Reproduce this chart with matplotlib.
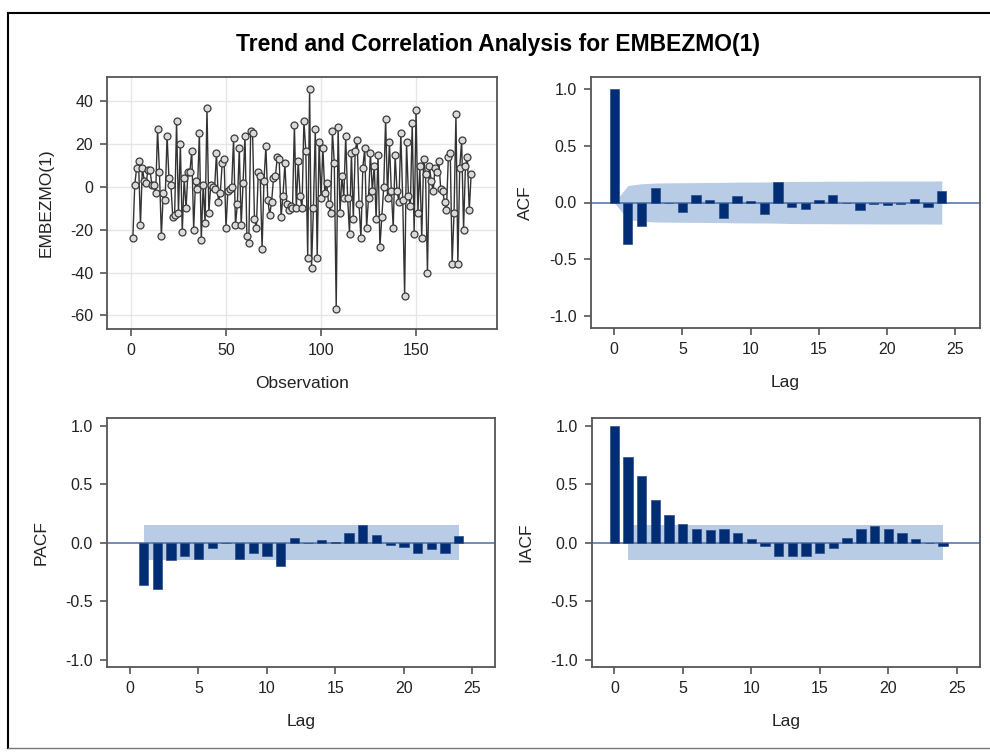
import matplotlib
matplotlib.use("Agg")
import matplotlib.pyplot as plt
from matplotlib.lines import Line2D

plt.rcParams['font.family'] = ['Liberation Sans', 'DejaVu Sans']
plt.rcParams['axes.unicode_minus'] = False

# ---------------- data ----------------
series_values = [
    -24, 1, 9, 12, -18, 9, 3, 2, 8, 8, 1, 1, -3, 27, 7, -23, -3, -6, 24, 4,
    1, -14, -13, 31, -12, 20, -21, 4, -10, 7, 7, 17, -20, 3, -1, 25, -25, 1, -17, 37,
    -12,
    1, 0, -1, 16, -7, -3, 11, 13, -19, -2, -1, 0, 23, -18, -8, 18, -18, 2, 24, -23,
    -26, 26, 25, -15, -19, 7, 5, -29, 3, 19, -6, -13, -7, 4, 5, 14, 13, -14, -4, 11,
    -8, -11, -9, -10, 29, -10, 12, -4, -10, 31, 17, -33,
    46,
    -38, -10, 27, -33, 21, -5, 18, -3, 2, -8, -12, 26, 11, -57, 28, -12, 5, -5, 24, -5,
    -22, 16, -15, 17, 22, -8, -24, 9, 18, -19, -5, 16, -2, 10, -15, 15, -28, -14, 0, 32,
    -5, 21, -2, -19, 15, -2, -7, 25, -6,
    -51,
    21, -4, -9, 30, -22, 36, -12, 10, -24, 13, 6, -40, 10, 3, -2, 9, 7, 12, -1, -2,
    -7, -11, 14, 16, -36, -12, 34, -36, 9, 22, -20, 10, 14, -11, 6,
]
observations = list(range(1, len(series_values) + 1))

lags = list(range(0, 25))
acf_values = [1.0, -0.37, -0.21, 0.13, -0.005, -0.08, 0.07, 0.02, -0.14, 0.06,
              0.01, -0.10, 0.18, -0.04, -0.06, 0.02, 0.07, 0.0, -0.07, -0.01,
              -0.02, -0.015, 0.03, -0.04, 0.10]
acf_band = [0.0, 0.150, 0.166, 0.172, 0.174, 0.175, 0.176, 0.177, 0.178, 0.180,
            0.181, 0.181, 0.183, 0.186, 0.187, 0.187, 0.188, 0.188, 0.189, 0.189,
            0.190, 0.190, 0.190, 0.190, 0.191]

pacf_lags = list(range(1, 25))
pacf_values = [-0.36, -0.39, -0.15, -0.11, -0.14, -0.04, -0.005, -0.14, -0.085, -0.11,
               -0.20, 0.04, 0.0, 0.025, 0.008, 0.08, 0.15, 0.065, -0.015, -0.035,
               -0.09, -0.055, -0.09, 0.06]
pacf_band = 0.149

iacf_values = [1.0, 0.73, 0.57, 0.365, 0.24, 0.16, 0.115, 0.11, 0.12, 0.08,
               0.035, -0.025, -0.11, -0.11, -0.115, -0.09, -0.045, 0.04, 0.12, 0.14,
               0.12, 0.085, 0.03, 0.0, -0.025]
iacf_band = 0.149

title_text = "Trend and Correlation Analysis for EMBEZMO(1)"
series_label = "EMBEZMO(1)"

# ---------------- style ----------------
W, H = 990, 754
BAR = "#002D73"
BAND = "#B8CCE6"
REF = "#4A6EA8"
SPINE = "#555555"
TXT = "#222222"

fig = plt.figure(figsize=(W / 100, H / 100), dpi=100)
fig.patch.set_facecolor("white")


def px_axes(left, top, right, bottom):
    return fig.add_axes([left / W, 1 - bottom / H, (right - left) / W, (bottom - top) / H])


def style(ax):
    for s in ax.spines.values():
        s.set_color(SPINE)
        s.set_linewidth(1.3)
    ax.tick_params(direction="out", length=5, width=1.2, color=SPINE,
                   labelsize=11.5, labelcolor=TXT, pad=5)


# outer frame
fig.add_artist(Line2D([8 / W, 8 / W], [1 - 13 / H, 1 - 748 / H], color="black", lw=1.5,
                      transform=fig.transFigure))
fig.add_artist(Line2D([8 / W, 1.0], [1 - 13 / H, 1 - 13 / H], color="black", lw=1.5,
                      transform=fig.transFigure))
fig.add_artist(Line2D([8 / W, 1.0], [1 - 748 / H, 1 - 748 / H], color="#777777", lw=1.0,
                      transform=fig.transFigure))

fig.text(498 / W, 1 - 44 / H, title_text, ha="center", va="center",
         fontsize=16.5, fontweight="bold", color="black")

XLP = 13
YLP = 12

# ---- top-left: series ----
ax1 = px_axes(107, 77, 497, 329)
style(ax1)
ax1.grid(True, color="#E6E6E6", lw=1)
ax1.set_axisbelow(True)
ax1.plot(observations, series_values, color="#333333", lw=1.0, marker="o", ms=5,
         mfc="#DADADA", mec="#3A3A3A", mew=0.9)
ax1.set_xlim(-12.6, 192.6)
ax1.set_ylim(-66.4, 51.4)
ax1.set_xticks([0, 50, 100, 150])
ax1.set_yticks([-60, -40, -20, 0, 20, 40])
ax1.set_xlabel("Observation", fontsize=12.5, color=TXT, labelpad=XLP)
ax1.set_ylabel(series_label, fontsize=12.5, color=TXT, labelpad=YLP)


def corr_axes(ax, x0, x1, y0, y1):
    style(ax)
    ax.set_xlim(x0, x1)
    ax.set_ylim(y0, y1)
    ax.set_xticks([0, 5, 10, 15, 20, 25])
    ax.set_yticks([-1.0, -0.5, 0.0, 0.5, 1.0])
    ax.set_yticklabels(["-1.0", "-0.5", "0.0", "0.5", "1.0"])
    ax.axhline(0, color=REF, lw=1.1, zorder=2)
    ax.set_xlabel("Lag", fontsize=12.5, color=TXT, labelpad=XLP)


# ---- top-right: ACF ----
ax2 = px_axes(591, 77, 980, 328)
corr_axes(ax2, -1.7, 26.8, -1.11, 1.11)
ax2.fill_between(lags, [-b for b in acf_band], acf_band, color=BAND, lw=0, zorder=1)
ax2.bar(lags, acf_values, width=0.68, color=BAR, edgecolor="#2B4E8C", lw=0.5, zorder=3)
ax2.set_ylabel("ACF", fontsize=12.5, color=TXT, labelpad=YLP)

# ---- bottom-left: PACF ----
ax3 = px_axes(107, 418, 495, 667)
corr_axes(ax3, -1.68, 26.65, -1.06, 1.066)
ax3.fill_between([pacf_lags[0], pacf_lags[-1]], [-pacf_band] * 2, [pacf_band] * 2,
                 color=BAND, lw=0, zorder=1)
ax3.bar(pacf_lags, pacf_values, width=0.68, color=BAR, edgecolor="#2B4E8C", lw=0.5, zorder=3)
ax3.set_ylabel("PACF", fontsize=12.5, color=TXT, labelpad=YLP)

# ---- bottom-right: IACF ----
ax4 = px_axes(592, 418, 980, 667)
corr_axes(ax4, -1.63, 26.7, -1.06, 1.066)
ax4.fill_between([1, 24], [-iacf_band] * 2, [iacf_band] * 2, color=BAND, lw=0, zorder=1)
ax4.bar(lags, iacf_values, width=0.68, color=BAR, edgecolor="#2B4E8C", lw=0.5, zorder=3)
ax4.set_ylabel("IACF", fontsize=12.5, color=TXT, labelpad=YLP)

fig.savefig("out.png", dpi=100, facecolor="white")
